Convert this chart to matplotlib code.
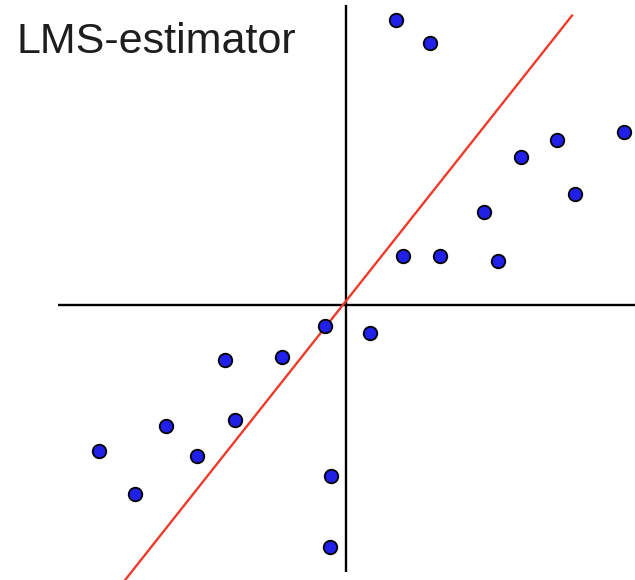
import matplotlib
matplotlib.use("Agg")
import matplotlib.pyplot as plt
import numpy as np

# sample points (x, y), origin at the crossing of the axes
xs = [50, 84, 278, 211, 175, 229, 138, 57, 94, 152,
      -21, 24, -121, -64, -180, -111, -247, -149, -211, -15, -16]
ys = [285, 262, 173, 165, 148, 111, 93, 49, 49, 44,
      -21, -28, -55, -52, -121, -115, -146, -151, -189, -171, -242]

# fitted LMS line
slope = 1.263
intercept = 4.0
line_x = np.array([-222, 226])

fig = plt.figure(figsize=(6.35, 5.8), dpi=100)
ax = fig.add_axes([0, 0, 1, 1])
ax.set_xlim(-346, 289)
ax.set_ylim(-275, 305)
ax.axis("off")

# coordinate axes
ax.plot([-288, 289], [0, 0], color="black", lw=1.7, solid_capstyle="butt")
ax.plot([0, 0], [300, -267], color="black", lw=1.7, solid_capstyle="butt")

ax.plot(line_x, slope * line_x + intercept, color="#ee3b2b", lw=1.7, zorder=2)

ax.scatter(xs, ys, s=95, c="#2020e8", edgecolors="black", linewidths=1.3, zorder=3)

fig.text(17 / 635, 1 - 53 / 580, "LMS-estimator", fontsize=31,
         family=["Liberation Sans", "DejaVu Sans"], color="#1e1e1e",
         ha="left", va="baseline")

fig.savefig("out.png", dpi=100)
